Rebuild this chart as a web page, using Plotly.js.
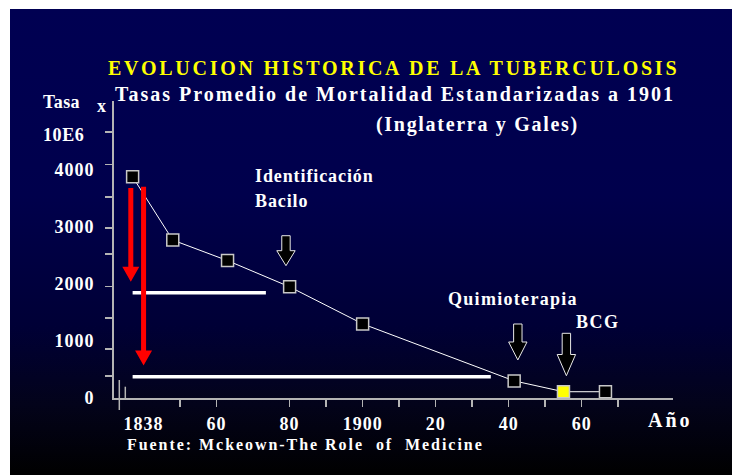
<!DOCTYPE html>
<html>
<head>
<meta charset="utf-8">
<script src="https://cdn.plot.ly/plotly-3.0.1.min.js"></script>
<style>
  html, body { margin:0; padding:0; background:#ffffff; }
  #bg { position:absolute; left:10px; top:9px; width:722px; height:466px;
        background: linear-gradient(to bottom, #000052 0%, #00004c 40%, #000036 68%, #03031a 85%, #000000 100%); }
  #chart { position:absolute; left:0; top:0; width:732px; height:475px; }
</style>
</head>
<body>
<div id="bg"></div>
<div id="chart"></div>
<script>
// ---- data ----
const years = [1837, 1848, 1863, 1880, 1900, 1941.5, 1955, 1966.5];
const rates = [3880, 2770, 2410, 1950, 1300, 300, 110, 110];
const highlightYear = 1955;            // BCG point drawn in yellow

const xTickVals = [1840, 1860, 1880, 1900, 1920, 1940, 1960];
const xTickText = ['1838', '60', '80', '1900', '20', '40', '60'];
const xMinorTicks = [1850, 1860, 1880, 1890, 1900, 1910, 1920, 1930, 1940, 1950, 1960, 1970];
const yTickVals = [0, 1000, 2000, 3000, 4000];
const yTickText = ['0', '1000', '2000', '3000', '4000'];
const yMinorTicks = [390, 860, 1400, 1960, 2530, 2980, 3530, 4100, 4670];

// annotation marks
const redArrows = [ {x: 1836.5, top: 3684, tip: 2040}, {x: 1840, top: 3707, tip: 568} ];
const blockArrows = [ {x: 1879, top: 2847, tip: 2321}, {x: 1942.5, top: 1298, tip: 667}, {x: 1955.8, top: 1135, tip: 391} ];
const whiteBars = [ {x0: 1837, x1: 1873.5, y: 1847}, {x0: 1837, x1: 1935.1, y: 374} ];

// ---- geometry ----
const W = 732, H = 475;
const M = {l: 114, r: 59, t: 101, b: 77};
const pw = W - M.l - M.r, ph = H - M.t - M.b;
const xr = [1831.9, 1985.0];
const yr = [0, 5210];
const xPx = x => M.l + (x - xr[0]) / (xr[1] - xr[0]) * pw;
const yPx = y => H - M.b - (y - yr[0]) / (yr[1] - yr[0]) * ph;
const pX = px => (px - M.l) / pw;       // pixel -> paper
const pY = py => (H - M.b - py) / ph;

const FONT = 'Liberation Serif, Times New Roman, serif';
const sp = (t, s) => '<span style="letter-spacing:' + s + 'px">' + t + '</span>';

function label(text, left, baseline, size, spacing, color) {
  return {
    text: sp(text, spacing), xref: 'paper', yref: 'paper', showarrow: false,
    x: pX(left - 2), y: pY(baseline - 0.3375 * size), xanchor: 'left', yanchor: 'middle',
    font: {family: FONT, size: size, color: color || '#ffffff', weight: 'bold'}
  };
}

const annotations = [
  label('Tasas Promedio de Mortalidad Estandarizadas a 1901', 115, 100.7, 20, 2),
  label('(Inglaterra y Gales)', 376, 131.7, 20, 1.7),
  label('Tasa', 42.7, 108.3, 18, 0.4),
  label('x', 97.3, 111.7, 18, 0),
  label('10E6', 42.7, 141, 18, 0.6),
  label('Identificación', 255, 181.7, 18, 0.9),
  label('Bacilo', 255, 207.3, 18, 0.9),
  label('Quimioterapia', 448.3, 305, 18, 1.3),
  label('BCG', 576, 328.3, 18, 1.5),
  label('Año', 648.3, 426.7, 20, 3),
  label('Fuente: Mckeown-The Role \u00a0of \u00a0Medicine', 126.7, 450, 16, 1.95)
];

// ---- shapes ----
const shapes = [];
whiteBars.forEach(b => shapes.push({type: 'line', xref: 'x', yref: 'y', x0: b.x0, x1: b.x1, y0: b.y, y1: b.y,
  line: {color: '#ffffff', width: 3.5}}));

function polyPath(pts) {
  return 'M' + pts.map(p => pX(p[0]).toFixed(5) + ',' + pY(p[1]).toFixed(5)).join(' L') + ' Z';
}
redArrows.forEach(a => {
  const cx = xPx(a.x), t = yPx(a.top), tip = yPx(a.tip), hs = tip - 15;
  shapes.push({type: 'path', xref: 'paper', yref: 'paper', fillcolor: '#ff0000', line: {width: 0},
    path: polyPath([[cx - 2.5, t], [cx + 2.5, t], [cx + 2.5, hs], [cx + 8.5, hs], [cx, tip], [cx - 8.5, hs], [cx - 2.5, hs]])});
});
blockArrows.forEach(a => {
  const cx = xPx(a.x), t = yPx(a.top), tip = yPx(a.tip), hs = t + (tip - t) * 0.5;
  shapes.push({type: 'path', xref: 'paper', yref: 'paper', fillcolor: '#000000', line: {color: '#e8e8e8', width: 1},
    path: polyPath([[cx - 4.2, t], [cx + 4.2, t], [cx + 4.2, hs], [cx + 9.2, hs], [cx, tip], [cx - 9.2, hs], [cx - 4.2, hs]])});
});
// axis break marks
shapes.push({type: 'line', xref: 'paper', yref: 'paper', x0: pX(119.3), x1: pX(119.3), y0: pY(380), y1: pY(410), line: {color: '#b4b4b4', width: 1.5}});
shapes.push({type: 'line', xref: 'paper', yref: 'paper', x0: pX(125.3), x1: pX(125.3), y0: pY(386.7), y1: pY(400), line: {color: '#b4b4b4', width: 1.5}});

const trace = {
  x: years, y: rates, type: 'scatter', mode: 'lines+markers', cliponaxis: false,
  line: {color: '#ffffff', width: 1},
  marker: {symbol: 'square', size: 12,
    color: years.map(y => y === highlightYear ? '#ffff00' : '#000000'),
    line: {color: '#c8c8c8', width: 1.5}},
  hoverinfo: 'skip'
};

const axisCommon = {showgrid: false, zeroline: false, showline: true, linecolor: '#b4b4b4', linewidth: 2,
  ticks: '', tickfont: {family: FONT, size: 18, color: '#ffffff', weight: 'bold'}, fixedrange: true};

const layout = {
  width: W, height: H, autosize: false,
  margin: M,
  paper_bgcolor: 'rgba(0,0,0,0)', plot_bgcolor: 'rgba(0,0,0,0)',
  showlegend: false,
  title: {
    text: sp('EVOLUCION HISTORICA DE LA TUBERCULOSIS', 2.75),
    font: {family: FONT, size: 20, color: '#ffff00', weight: 'bold'},
    xref: 'container', yref: 'container', x: 108 / W, xanchor: 'left', y: 1 - (75 - 6.75) / H, yanchor: 'middle'
  },
  xaxis: Object.assign({}, axisCommon, {
    range: xr, tickmode: 'array', tickvals: xTickVals, ticktext: xTickText.map(t => sp(t, 1)),
    ticklabelstandoff: 8,
    minor: {tickmode: 'array', tickvals: xMinorTicks, ticks: 'outside', ticklen: 7, tickwidth: 1.5, tickcolor: '#b4b4b4'}
  }),
  yaxis: Object.assign({}, axisCommon, {
    range: yr, tickmode: 'array', tickvals: yTickVals, ticktext: yTickText.map(t => sp(t, 1)),
    ticklabelstandoff: 14,
    minor: {tickmode: 'array', tickvals: yMinorTicks, ticks: 'outside', ticklen: 7, tickwidth: 1.5, tickcolor: '#b4b4b4'}
  }),
  annotations: annotations,
  shapes: shapes
};

Plotly.newPlot('chart', [trace], layout, {staticPlot: true, displayModeBar: false});
</script>
</body>
</html>
